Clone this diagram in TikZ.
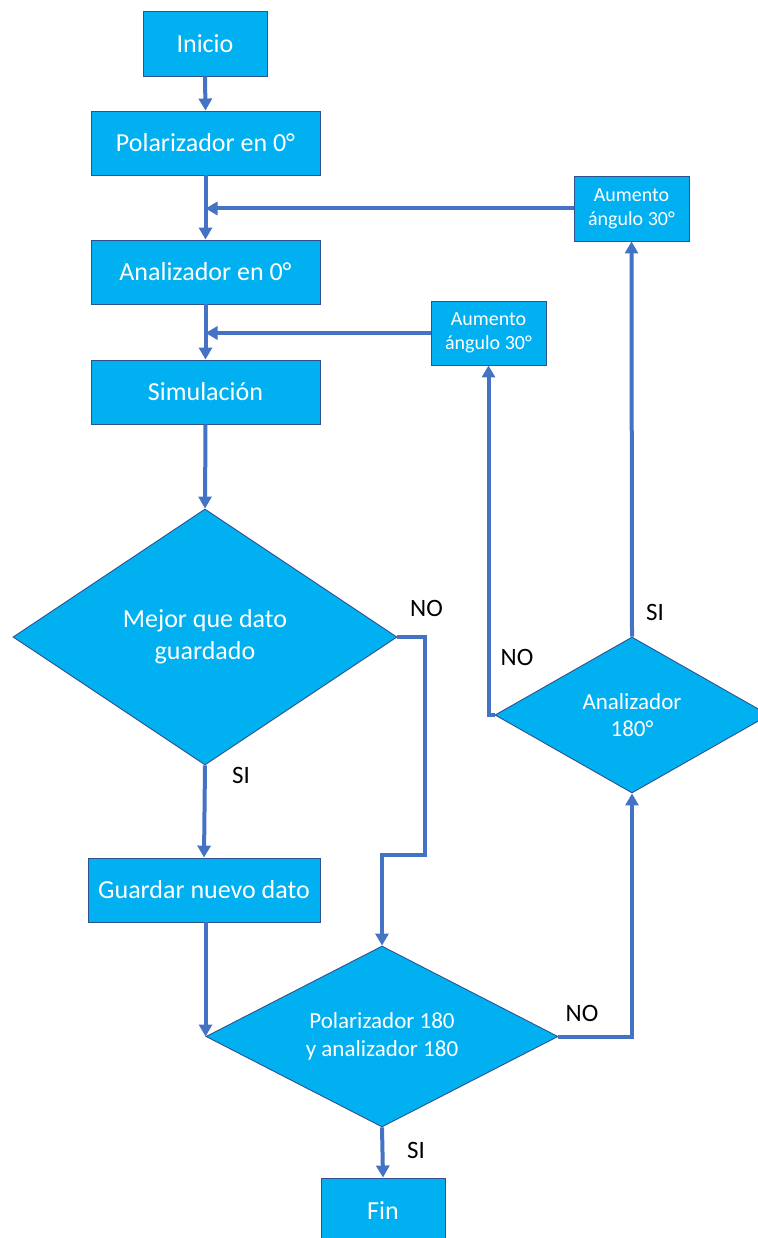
\documentclass[tikz,border=0pt]{standalone}
\usepackage{fontspec}
\setmainfont{Carlito}
\usetikzlibrary{shapes.geometric,arrows.meta}
\definecolor{fillc}{HTML}{00B0F0}
\definecolor{bordc}{HTML}{2F528F}
\definecolor{linec}{HTML}{4472C4}
\tikzset{
  box/.style={rectangle, draw=bordc, line width=0.9pt, fill=fillc, text=white, inner sep=0pt, align=center, font=\fontsize{26}{32}\selectfont},
  smallbox/.style={box, font=\fontsize{20}{24}\selectfont},
  dia/.style={diamond, draw=bordc, line width=0.9pt, fill=fillc, text=white, inner sep=0pt, align=center},
  ln/.style={draw=linec, line width=4pt},
  arr/.style={ln, -{Triangle[length=12pt,width=13pt]}},
  lab/.style={inner sep=0pt, text=black, font=\fontsize{25}{30}\selectfont}
}
\begin{document}
\begin{tikzpicture}[x=1pt,y=-1pt]
\useasboundingbox (0,0) rectangle (757,1238);
% boxes
\node[box, minimum width=124, minimum height=65] (inicio) at (205,43.5) {Inicio};
\node[box, minimum width=229, minimum height=64] (pol) at (205.5,143) {Polarizador en 0°};
\node[box, minimum width=229, minimum height=64] (ana) at (205.5,272) {Analizador en 0°};
\node[box, minimum width=229, minimum height=64] (sim) at (205.5,392) {Simulación};
\node[dia, aspect=1.5, minimum width=384, minimum height=256, font=\fontsize{26}{32}\selectfont] (d1) at (205,637) {Mejor que dato\\guardado};
\node[box, minimum width=232, minimum height=64] (guar) at (204,890) {Guardar nuevo dato};
\node[dia, aspect=1.94, minimum width=352, minimum height=181, font=\fontsize{23}{28}\selectfont] (d2) at (382,1036.5) {Polarizador 180\\y analizador 180};
\node[box, minimum width=124, minimum height=65] (fin) at (383,1210.5) {Fin};
\node[dia, aspect=1.76, minimum width=274, minimum height=156, font=\fontsize{23}{27}\selectfont] (d3) at (632,715) {Analizador\\180°};
\node[smallbox, minimum width=115, minimum height=65] (a1) at (631.5,208.5) {Aumento\\ángulo 30°};
\node[smallbox, minimum width=115, minimum height=64] (a2) at (488.5,333) {Aumento\\ángulo 30°};
\coordinate (n1) at (425,855);
% connectors
\draw[arr] (inicio.south) -- (pol.north);
\draw[arr] (pol.south) -- (ana.north);
\draw[arr] (a1.west) -- (pol.south |- a1.west);
\draw[arr] (ana.south) -- (sim.north);
\draw[arr] (a2.west) -- (sim.north |- a2.west);
\draw[arr] (sim.south) -- (d1.north);
\draw[arr] (d1.south) -- (guar.north);
\draw[arr] (d1.east) -| (n1) -| (d2.north);
\draw[arr] (guar.south -| d2.west) -- (d2.west);
\draw[arr] (d2.south) -- (fin.north);
\draw[arr] (d2.east) -| (d3.south);
\draw[arr] (d3.west) -| (a2.south);
\draw[arr] (d3.north) -- (a1.south);
% labels
\node[lab] (l1) at (426.5,608) {NO};
\node[lab] (l2) at (241,775) {SI};
\node[lab] (l3) at (655,612) {SI};
\node[lab] (l4) at (517,657) {NO};
\node[lab] (l5) at (582,1013) {NO};
\node[lab] (l6) at (416,1150) {SI};
\end{tikzpicture}
\end{document}
